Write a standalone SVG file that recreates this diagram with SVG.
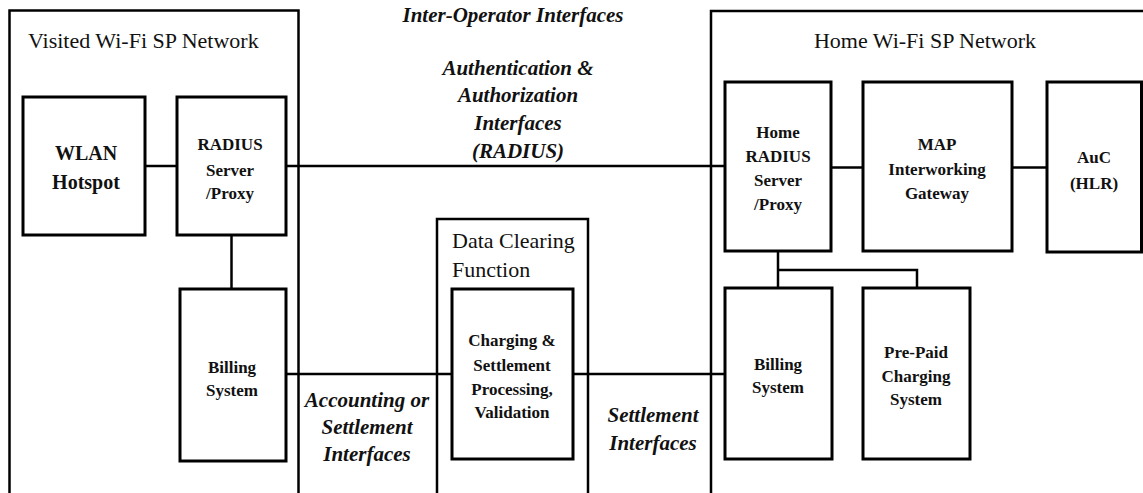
<svg xmlns="http://www.w3.org/2000/svg" width="1143" height="493" viewBox="0 0 1143 493">
<style>
.region{fill:none;stroke:#000;stroke-width:2.5}
.box{fill:#fff;stroke:#000;stroke-width:3}
.conn{fill:none;stroke:#000;stroke-width:2.5}
.title{font-family:"Liberation Serif",serif;font-size:22px;fill:#111}
.lbl{font-family:"Liberation Serif",serif;font-size:17px;font-weight:bold;fill:#111;text-anchor:middle}
.big{font-family:"Liberation Serif",serif;font-size:20px;font-weight:bold;fill:#111;text-anchor:middle}
.it{font-family:"Liberation Serif",serif;font-size:21px;font-style:italic;font-weight:bold;fill:#111;text-anchor:middle}
</style>
<rect width="1143" height="493" fill="#fff"/>
<g id="visited-network">
<rect class="region" x="9.5" y="10.5" width="289" height="500"/>
<text class="title" x="28" y="48">Visited Wi-Fi SP Network</text>
</g>
<g id="home-network">
<rect class="region" x="711" y="11" width="460" height="500"/>
<text class="title" x="925" y="48" text-anchor="middle">Home Wi-Fi SP Network</text>
</g>
<g id="data-clearing">
<rect class="region" x="437" y="219" width="151" height="300"/>
<text class="title" x="452" y="248">Data Clearing</text>
<text class="title" x="452" y="277">Function</text>
</g>
<g id="inter-operator-label">
<text class="it" x="513" y="22">Inter-Operator Interfaces</text>
</g>
<g id="auth-label">
<text class="it" x="518" y="75">Authentication &amp;</text>
<text class="it" x="518" y="102">Authorization</text>
<text class="it" x="518" y="130">Interfaces</text>
<text class="it" x="518" y="158">(RADIUS)</text>
</g>
<g id="accounting-label">
<text class="it" x="367" y="407">Accounting or</text>
<text class="it" x="367" y="434">Settlement</text>
<text class="it" x="367" y="461">Interfaces</text>
</g>
<g id="settlement-label">
<text class="it" x="653" y="422">Settlement</text>
<text class="it" x="653" y="450">Interfaces</text>
</g>
<g id="connectors">
<line class="conn" x1="145" y1="166" x2="177" y2="166"/>
<line class="conn" x1="286" y1="166" x2="725" y2="166"/>
<line class="conn" x1="231.5" y1="235" x2="231.5" y2="289"/>
<line class="conn" x1="286" y1="374" x2="452" y2="374"/>
<line class="conn" x1="573" y1="374" x2="725" y2="374"/>
<line class="conn" x1="831" y1="167.5" x2="863" y2="167.5"/>
<line class="conn" x1="1012" y1="167.5" x2="1047" y2="167.5"/>
<polyline class="conn" points="778,251 778,288"/>
<polyline class="conn" points="778,270 917,270 917,288"/>
</g>
<g id="wlan-hotspot">
<rect class="box" x="23" y="97" width="122" height="138"/>
<text class="big" x="86" y="160">WLAN</text>
<text class="big" x="86" y="189">Hotspot</text>
</g>
<g id="radius-proxy">
<rect class="box" x="177" y="97" width="109" height="138"/>
<text class="lbl" x="230" y="150">RADIUS</text>
<text class="lbl" x="230" y="176">Server</text>
<text class="lbl" x="230" y="199">/Proxy</text>
</g>
<g id="visited-billing">
<rect class="box" x="180" y="289" width="106" height="172"/>
<text class="lbl" x="232" y="373">Billing</text>
<text class="lbl" x="232" y="396">System</text>
</g>
<g id="charging-settlement">
<rect class="box" x="452" y="289" width="121" height="170"/>
<text class="lbl" x="512" y="346">Charging &amp;</text>
<text class="lbl" x="512" y="371">Settlement</text>
<text class="lbl" x="512" y="395">Processing,</text>
<text class="lbl" x="512" y="418">Validation</text>
</g>
<g id="home-radius">
<rect class="box" x="725" y="82" width="106" height="169"/>
<text class="lbl" x="778" y="138">Home</text>
<text class="lbl" x="778" y="162">RADIUS</text>
<text class="lbl" x="778" y="186">Server</text>
<text class="lbl" x="778" y="210">/Proxy</text>
</g>
<g id="map-gateway">
<rect class="box" x="863" y="82" width="149" height="169"/>
<text class="lbl" x="937" y="150">MAP</text>
<text class="lbl" x="937" y="175">Interworking</text>
<text class="lbl" x="937" y="199">Gateway</text>
</g>
<g id="auc-hlr">
<rect class="box" x="1047" y="82" width="94.5" height="170"/>
<text class="lbl" x="1094" y="163">AuC</text>
<text class="lbl" x="1094" y="189">(HLR)</text>
</g>
<g id="home-billing">
<rect class="box" x="725" y="288" width="107" height="171"/>
<text class="lbl" x="778" y="370">Billing</text>
<text class="lbl" x="778" y="393">System</text>
</g>
<g id="prepaid-charging">
<rect class="box" x="863" y="288" width="107" height="171"/>
<text class="lbl" x="916" y="358">Pre-Paid</text>
<text class="lbl" x="916" y="382">Charging</text>
<text class="lbl" x="916" y="405">System</text>
</g>
</svg>
